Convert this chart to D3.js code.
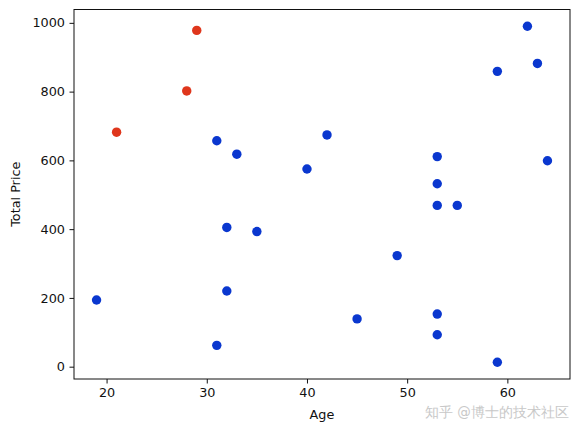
<!DOCTYPE html>
<html><head><meta charset="utf-8">
<script src="https://cdn.jsdelivr.net/npm/d3@7"></script>
<style>body{margin:0;background:#fff}svg{display:block}text{font-family:"DejaVu Sans",sans-serif}</style>
</head><body><svg id="c" width="580" height="432"></svg>
<script>
const ages = [21, 28, 29, 31, 42, 59, 62, 63, 33, 40, 53, 64, 53, 53, 55, 32, 35, 49, 19, 32, 45, 53, 53, 31, 59];
const prices = [682, 802, 978, 657, 674, 859, 990, 882, 618, 575, 611, 599, 532, 469, 469, 405, 393, 323, 194, 220, 139, 153, 93, 62, 13];
const groups = [1, 1, 1, 0, 0, 0, 0, 0, 0, 0, 0, 0, 0, 0, 0, 0, 0, 0, 0, 0, 0, 0, 0, 0, 0];
const groupColors = ["#0a37cf", "#df361c"];
const xTicks = [20, 30, 40, 50, 60];
const yTicks = [0, 200, 400, 600, 800, 1000];

const svg = d3.select("#c");
const L = 74, R = 570, T = 9.5, B = 379;
const xmin = d3.min(ages), xmax = d3.max(ages), xp = (xmax - xmin) * 0.05;
const ymin = d3.min(prices), ymax = d3.max(prices), yp = (ymax - ymin) * 0.05;
const x = d3.scaleLinear().domain([xmin - xp, xmax + xp]).range([L, R]);
const y = d3.scaleLinear().domain([ymin - yp, ymax + yp]).range([B, T]);

const gx = svg.append("g").attr("transform", `translate(0,${B})`)
  .call(d3.axisBottom(x).tickValues(xTicks).tickFormat(d3.format("d")).tickSize(4.5).tickPadding(4.5));
const gy = svg.append("g").attr("transform", `translate(${L},0)`)
  .call(d3.axisLeft(y).tickValues(yTicks).tickFormat(d3.format("d")).tickSize(4.5).tickPadding(4.5));
[gx, gy].forEach(g => {
  g.select(".domain").remove();
  g.selectAll("text").attr("font-size", 12.8).attr("fill", "#111").attr("font-family", "DejaVu Sans");
  g.selectAll("line").attr("stroke", "#111");
});

svg.append("g").selectAll("circle").data(ages).join("circle")
  .attr("cx", d => x(d))
  .attr("cy", (d, i) => y(prices[i]))
  .attr("r", 4.7)
  .attr("fill", (d, i) => groupColors[groups[i]]);

svg.append("rect").attr("x", L).attr("y", T).attr("width", R - L).attr("height", B - T)
  .attr("fill", "none").attr("stroke", "#111").attr("stroke-width", 1);

svg.append("text").attr("x", (L + R) / 2).attr("y", 419).attr("text-anchor", "middle")
  .attr("font-size", 12.8).attr("fill", "#111").text("Age");
svg.append("text").attr("transform", `translate(20,${(T + B) / 2}) rotate(-90)`)
  .attr("text-anchor", "middle").attr("font-size", 12.8).attr("fill", "#111").text("Total Price");

svg.append("text").attr("x", 425).attr("y", 417).attr("font-size", 13.5)
  .attr("font-family", "Noto Sans CJK SC").attr("fill", "#bbb").attr("opacity", 0.8)
  .text("知乎 @博士的技术社区");
</script></body></html>
